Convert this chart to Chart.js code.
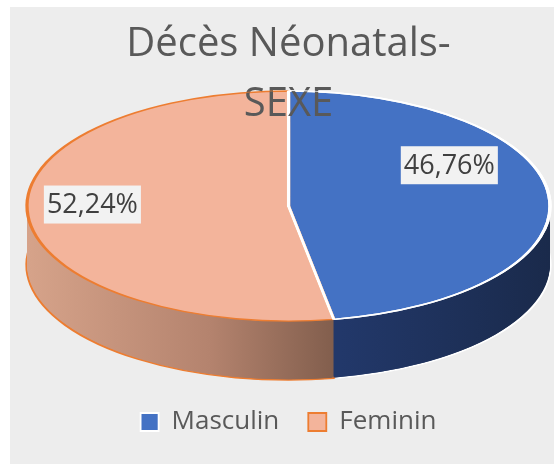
<!DOCTYPE html>
<html>
<head>
<meta charset="utf-8">
<script src="https://cdn.jsdelivr.net/npm/chart.js"></script>
<style>
    html, body { margin: 0; padding: 0; background: #ffffff; }
    #panel { position: absolute; left: 10px; top: 7px; width: 544px; height: 457px; background: #ededed; }
    canvas { display: block; }
</style>
</head>
<body>
<div id="panel"><canvas id="sexChart" width="544" height="457"></canvas></div>
<script>
// Chart data
const categories = ['Masculin', 'Feminin'];
const shares = [46.76, 52.24];
const shareLabels = ['46,76%', '52,24%'];
const titleLines = ['Décès Néonatals-', 'SEXE'];

const FONT = "'Open Sans', 'Noto Sans', sans-serif";

// Ellipse that the flat pie is squashed onto, taken from the chart area
function pieView(chart, opts) {
    const area = chart.chartArea;
    const arc = chart.getDatasetMeta(0).data[0];
    const rx = area.width / 2;
    const ry = rx * opts.tilt;
    return {
        cx: (area.left + area.right) / 2,
        cy: area.top + ry,
        rx: rx,
        ry: ry,
        depth: area.height - 2 * ry,
        ex: arc.x,
        ey: arc.y,
        r: arc.outerRadius
    };
}

function applyView(ctx, v, dy) {
    ctx.translate(v.cx, v.cy + dy);
    ctx.scale(v.rx / v.r, v.ry / v.r);
    ctx.translate(-v.ex, -v.ey);
}

// draw an arc element again with some options swapped
function redrawArc(ctx, arc, changes) {
    const layer = Object.create(arc);
    layer.options = Object.assign({}, arc.options, changes);
    arc.draw.call(layer, ctx);
}

const pie3d = {
    id: 'pie3d',
    beforeDatasetsDraw(chart, args, opts) {
        const ctx = chart.ctx;
        const v = pieView(chart, opts);
        const arcs = chart.getDatasetMeta(0).data;
        const bottom = Math.round(v.depth);

        // side wall: copies of the slices stacked from the bottom up
        for (let k = bottom; k >= 1; k--) {
            arcs.forEach((arc, i) => {
                ctx.save();
                applyView(ctx, v, k);
                const grad = ctx.createLinearGradient(v.ex - v.r, 0, v.ex + v.r, 0);
                opts.sideStops[i].forEach(s => grad.addColorStop(s[0], s[1]));
                redrawArc(ctx, arc, {
                    backgroundColor: grad,
                    borderWidth: k === bottom ? arc.options.borderWidth : 0
                });
                ctx.restore();
            });
        }

        // top face is drawn by the library under this transform
        ctx.save();
        applyView(ctx, v, 0);
    },
    afterDatasetsDraw(chart, args, opts) {
        const ctx = chart.ctx;
        const arcs = chart.getDatasetMeta(0).data;

        // white edge of the first slice stays over its neighbour
        redrawArc(ctx, arcs[0], { backgroundColor: 'rgba(0,0,0,0)' });
        ctx.restore();

        const v = pieView(chart, opts);

        // title text overlaps the top of the pie
        ctx.save();
        ctx.beginPath();
        ctx.ellipse(v.cx, v.cy, v.rx, v.ry, 0, 0, Math.PI * 2);
        ctx.clip();
        chart.titleBlock.draw();
        ctx.restore();

        // percentage labels
        ctx.save();
        ctx.font = opts.labelSize + 'px ' + FONT;
        ctx.textAlign = 'center';
        ctx.textBaseline = 'middle';
        arcs.forEach((arc, i) => {
            const p = opts.labelPlacement[i];
            const a = (arc.startAngle + arc.endAngle) / 2 + p.turn * Math.PI / 180;
            const x = v.cx + v.rx * p.r * Math.cos(a);
            const y = v.cy + v.ry * p.r * Math.sin(a);
            const w = ctx.measureText(shareLabels[i]).width + 6;
            const h = 38;
            ctx.fillStyle = '#f2f2f2';
            ctx.fillRect(x - w / 2, y - h / 2, w, h);
            ctx.fillStyle = '#404040';
            ctx.fillText(shareLabels[i], x, y + 1);
        });
        ctx.restore();
    }
};

const ctx = document.getElementById('sexChart').getContext('2d');
new Chart(ctx, {
    type: 'pie',
    data: {
        labels: categories,
        datasets: [{
            data: shares,
            backgroundColor: ['#4472C4', '#F3B49B'],
            borderColor: ['#FFFFFF', '#ED7D31'],
            borderWidth: 1.8
        }]
    },
    options: {
        responsive: false,
        animation: false,
        events: [],
        layout: {
            padding: { left: 17, right: 4, top: 0, bottom: 19 }
        },
        plugins: {
            title: {
                display: true,
                text: titleLines,
                color: '#595959',
                font: { family: FONT, size: 40, weight: 'normal', lineHeight: 1.4875 },
                padding: { top: 8, bottom: -43 }
            },
            legend: {
                position: 'bottom',
                labels: {
                    color: '#595959',
                    font: { family: FONT, size: 26 },
                    boxWidth: 18,
                    boxHeight: 18,
                    padding: 29
                }
            },
            tooltip: { enabled: false },
            pie3d: {
                tilt: 0.44,
                labelSize: 27,
                sideStops: [
                    [[0.6, '#22386a'], [1, '#1a2a4b']],
                    [[0, '#d6a38a'], [0.35, '#b4836e'], [0.6, '#7f5c4b']]
                ],
                labelPlacement: [
                    { r: 0.71, turn: -25 },
                    { r: 0.75, turn: 6 }
                ]
            }
        }
    },
    plugins: [pie3d]
});
</script>
</body>
</html>
